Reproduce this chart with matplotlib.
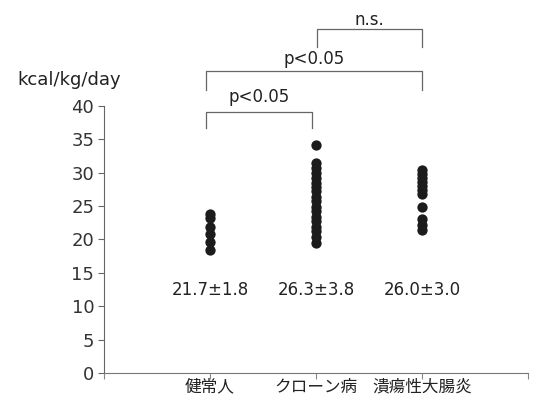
import numpy as np
import matplotlib.pyplot as plt

plt.rcParams['font.family'] = ['DejaVu Sans', 'Noto Sans CJK JP']

# data
groups = ['健常人', 'クローン病', '潰瘍性大腸炎']
healthy = [23.8, 23.2, 21.9, 20.8, 19.6, 18.4]
crohn = [34.2, 31.4, 30.7, 29.9, 29.2, 28.5, 27.9, 27.2, 26.4, 25.7, 24.9,
         24.2, 23.4, 22.7, 21.9, 21.2, 20.4, 19.4]
uc = [30.4, 29.8, 29.2, 28.6, 28.0, 27.4, 26.8, 24.9, 23.0, 22.2, 21.4]
mean_labels = ['21.7±1.8', '26.3±3.8', '26.0±3.0']
# comparisons: (group a, group b, label)
comparisons = [(1, 2, 'p<0.05'), (1, 3, 'p<0.05'), (2, 3, 'n.s.')]

fig = plt.figure(figsize=(5.33, 3.97), dpi=100)
ax = fig.add_axes([0.195, 0.0605, 0.796, 0.6725])

dot = '#1c1c1c'
txt = '#222222'
for i, vals in enumerate([healthy, crohn, uc], start=1):
    ax.scatter([i] * len(vals), vals, s=55, color=dot, zorder=3, linewidths=0)
    ax.text(i, 12.4, mean_labels[i - 1], ha='center', va='center',
            fontsize=12, color=txt)

ax.set_xlim(0, 4)
ax.set_ylim(0, 40)
ax.set_yticks(np.arange(0, 41, 5))
ax.set_xticks([0, 1, 2, 3, 4])
ax.set_xticklabels([''] + groups + [''], fontsize=12, color=txt,
                   family=['Noto Sans CJK JP'])
ax.tick_params(axis='y', labelsize=13, labelcolor='#333333', length=4,
               color='#666666', pad=3)
ax.tick_params(axis='x', length=4, color='#888888', pad=0)
for s in ['top', 'right']:
    ax.spines[s].set_visible(False)
ax.spines['left'].set_color('#666666')
ax.spines['bottom'].set_color('#777777')

# significance brackets above the axes
levels = [(39.1, 36.7, 41.3), (45.3, 42.4, 47.0), (51.5, 48.9, 52.9)]
lc = '#666666'
for (a, b, lab), (top, leg, ty) in zip(comparisons, levels):
    xa = a - 0.04 if a == 1 else a + 0.01
    xb = b - 0.04 if b == 2 else b
    ax.plot([xa, xa, xb, xb], [leg, top, top, leg], color=lc, lw=0.9,
            clip_on=False)
    ax.text((xa + xb) / 2, ty, lab, ha='center', va='center', fontsize=12,
            color=txt, clip_on=False)

fig.text(0.032, 0.798, 'kcal/kg/day', ha='left', va='center', fontsize=13,
         color=txt)

fig.savefig('out.png', dpi=100)
